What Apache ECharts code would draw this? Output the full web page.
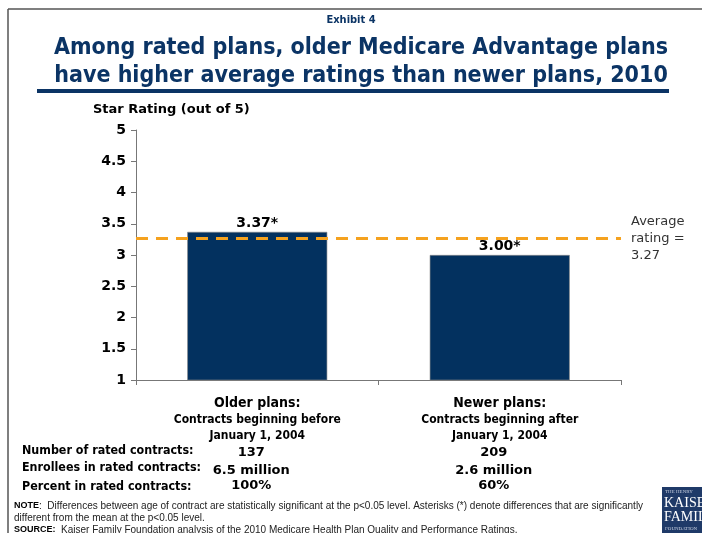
<!DOCTYPE html>
<html>
<head>
<meta charset="utf-8">
<script src="https://cdn.jsdelivr.net/npm/echarts@6/dist/echarts.min.js"></script>
<style>
  html, body { margin: 0; padding: 0; background: #fff; }
  #chart { width: 702px; height: 533px; }
</style>
</head>
<body>
<div id="chart"></div>
<script>
// Plan groups and their average star ratings
const categories = ['Older plans', 'Newer plans'];
const categorySubtitles = ['Contracts beginning before\nJanuary 1, 2004', 'Contracts beginning after\nJanuary 1, 2004'];
const ratings = [3.37, 3.00];
const ratingLabels = ['3.37*', '3.00*'];
const averageRating = 3.27;

// Table rows under the chart
const rowLabels = ['Number of rated contracts:', 'Enrollees in rated contracts:', 'Percent in rated contracts:'];
const olderRow = ['137', '6.5 million', '100%'];
const newerRow = ['209', '2.6 million', '60%'];

const NAVY = '#0b3465';
const FONT = 'DejaVu Sans';
const CONDENSED = '"DejaVu Sans Condensed", "DejaVu Sans"';
const NARROW = '"Liberation Sans Narrow", "Liberation Sans"';

const chart = echarts.init(document.getElementById('chart'));

const gridLeft = 136, gridRight = 621;
const colW = (gridRight - gridLeft) / categories.length;

const graphics = [
  // page frame
  { type: 'line', shape: { x1: 8, y1: 9, x2: 702, y2: 9 }, style: { stroke: '#555', lineWidth: 1.5 } },
  { type: 'line', shape: { x1: 8, y1: 9, x2: 8, y2: 533 }, style: { stroke: '#555', lineWidth: 1.5 } },
  // headings
  { type: 'text', left: 'center', top: 15, style: { text: 'Exhibit 4', font: 'bold 11px ' + CONDENSED, fill: NAVY } },
  { type: 'text', x: 361, y: 37, style: { text: 'Among rated plans, older Medicare Advantage plans', font: 'bold 23px ' + CONDENSED, fill: NAVY, align: 'center', verticalAlign: 'top' } },
  { type: 'text', x: 361, y: 65, style: { text: 'have higher average ratings than newer plans, 2010', font: 'bold 23px ' + CONDENSED, fill: NAVY, align: 'center', verticalAlign: 'top' } },
  { type: 'rect', shape: { x: 37, y: 89, width: 632, height: 4 }, style: { fill: NAVY } },
  { type: 'text', left: 93, top: 103, style: { text: 'Star Rating (out of 5)', font: 'bold 13px ' + FONT, fill: '#000' } },
  // notes
  { type: 'text', left: 14, top: 501, style: { rich: { b: { font: 'bold 9px "Liberation Sans"', fill: '#000' }, n: { font: '10px ' + NARROW, fill: '#222' } },
      text: '{b|NOTE}{n|:  Differences between age of contract are statistically significant at the p<0.05 level. Asterisks (*) denote differences that are significantly}' } },
  { type: 'text', left: 14, top: 513, style: { text: 'different from the mean at the p<0.05 level.', font: '10px ' + NARROW, fill: '#222' } },
  { type: 'text', left: 14, top: 525, style: { rich: { b: { font: 'bold 9px "Liberation Sans"', fill: '#000' }, n: { font: '10px ' + NARROW, fill: '#222' } },
      text: '{b|SOURCE:}{n|  Kaiser Family Foundation analysis of the 2010 Medicare Health Plan Quality and Performance Ratings.}' } },
  // foundation mark
  { type: 'rect', shape: { x: 662, y: 487, width: 40, height: 46 }, style: { fill: '#1f3a68' } },
  { type: 'text', left: 665, top: 489, style: { text: 'THE HENRY', font: '5px "Liberation Serif"', fill: '#c8d0e0' } },
  { type: 'text', left: 664, top: 496, style: { text: 'KAISER', font: '14px "Liberation Serif"', fill: '#fff' } },
  { type: 'text', left: 664, top: 510, style: { text: 'FAMILY', font: '14px "Liberation Serif"', fill: '#fff' } },
  { type: 'text', left: 665, top: 526, style: { text: 'FOUNDATION', font: '5px "Liberation Serif"', fill: '#c8d0e0' } }
];

// table rows
const rowTops = [445, 462, 479];
rowLabels.forEach((lab, i) => {
  graphics.push({ type: 'text', left: 22, top: rowTops[i] + (i === 2 ? 2 : 0), style: { text: lab, font: 'bold 12.4px ' + CONDENSED, fill: '#000' } });
  [olderRow, newerRow].forEach((row, c) => {
    graphics.push({ type: 'text', x: gridLeft + colW * (c + 0.5) - 6, y: rowTops[i] + 1 + (i === 1 ? 1 : 0) - (i === 2 ? 1 : 0),
      style: { text: row[i], font: 'bold 13px ' + FONT, fill: '#000', align: 'center', verticalAlign: 'top' } });
  });
});

chart.setOption({
  animation: false,
  grid: { left: gridLeft, right: 702 - gridRight, top: 130, bottom: 533 - 380 },
  xAxis: {
    type: 'category',
    data: categories.map((c, i) => c + ':\n' + categorySubtitles[i]),
    axisLine: { lineStyle: { color: '#777', width: 1 } },
    axisTick: { show: true, alignWithLabel: false, length: 5, lineStyle: { color: '#777' } },
    axisLabel: {
      margin: 15,
      lineHeight: 16,
      formatter: (v) => {
        const parts = v.split('\n');
        return '{h|' + parts[0] + '}\n{s|' + parts[1] + '}\n{s|' + parts[2] + '}';
      },
      rich: {
        h: { fontFamily: CONDENSED, fontWeight: 'bold', fontSize: 14, color: '#000', lineHeight: 17 },
        s: { fontFamily: CONDENSED, fontWeight: 'bold', fontSize: 12, color: '#000', lineHeight: 16 }
      }
    }
  },
  yAxis: {
    type: 'value', min: 1, max: 5, interval: 0.5,
    axisLine: { show: true, lineStyle: { color: '#777', width: 1 } },
    axisTick: { show: true, length: 5, lineStyle: { color: '#777' } },
    splitLine: { show: false },
    axisLabel: { color: '#000', fontFamily: FONT, fontWeight: 'bold', fontSize: 14, margin: 10 }
  },
  series: [{
    type: 'bar',
    data: ratings,
    barWidth: 140,
    itemStyle: { color: '#03315f', borderColor: '#888', borderWidth: 0.6 },
    label: {
      show: true, position: 'top', distance: 2,
      formatter: (p) => ratingLabels[p.dataIndex],
      color: '#000', fontFamily: FONT, fontWeight: 'bold', fontSize: 14
    },
    markLine: {
      silent: true,
      symbol: 'none',
      lineStyle: { color: '#f5a21f', type: [12, 8], width: 3 },
      label: {
        show: true, position: 'end', distance: 10,
        formatter: 'Average\nrating =\n' + averageRating.toFixed(2),
        color: '#333', fontFamily: FONT, fontSize: 13, lineHeight: 17, align: 'left'
      },
      data: [{ yAxis: averageRating }]
    },
    z: 2
  }],
  graphic: graphics
});
</script>
</body>
</html>
